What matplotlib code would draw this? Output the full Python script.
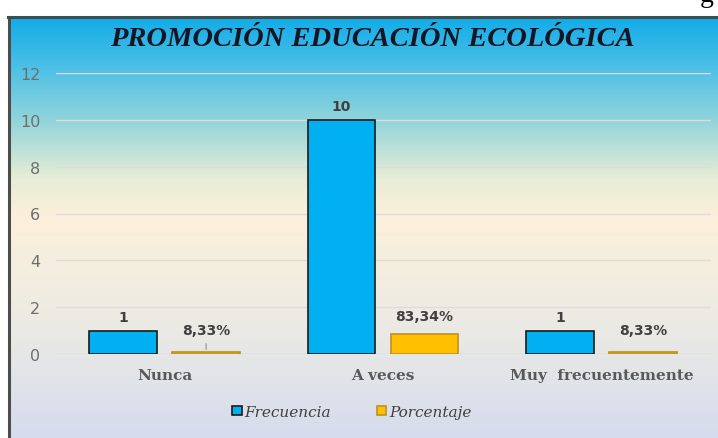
import numpy as np
import matplotlib
matplotlib.use("Agg")
import matplotlib.pyplot as plt
from matplotlib.colors import LinearSegmentedColormap
from matplotlib.lines import Line2D

categories = ["Nunca", "A veces", "Muy  frecuentemente"]
frecuencia = [1, 10, 1]
porcentaje = [0.0833, 0.8334, 0.0833]
frec_labels = ["1", "10", "1"]
porc_labels = ["8,33%", "83,34%", "8,33%"]
yticks = [0, 2, 4, 6, 8, 10, 12]

W, H = 718, 439
fig = plt.figure(figsize=(W / 100, H / 100), dpi=100)
fig.patch.set_facecolor("white")

# partial glyph at top right (cropped text from page)
fig.text(700 / W, 1 - 2 / H, "g", fontsize=20, family="Liberation Serif",
         va="baseline", ha="left", color="black")

# gradient background panel
top_px = 18
bg = fig.add_axes([9 / W, 0, 1 - 9 / W, (H - top_px) / H], zorder=0)
cmap = LinearSegmentedColormap.from_list("bg", [
    (0.0, "#12ACE8"),
    (0.12, "#4DC0E6"),
    (0.25, "#95D5DA"),
    (0.38, "#E6EDD6"),
    (0.47, "#FBF0DA"),
    (0.62, "#F3EEE0"),
    (0.80, "#E6E7E6"),
    (1.0, "#D6DCEE"),
])
grad = np.linspace(0, 1, 256).reshape(-1, 1)
bg.imshow(grad, aspect="auto", cmap=cmap, extent=[0, 1, 0, 1], origin="upper")
bg.set_xlim(0, 1); bg.set_ylim(0, 1)
bg.axis("off")

# frame lines
fig.add_artist(Line2D([9 / W, 9 / W], [0, (H - top_px) / H], color="#4D4D4D", lw=2.2,
                      transform=fig.transFigure, zorder=5))
fig.add_artist(Line2D([8 / W, 1], [(H - top_px) / H, (H - top_px) / H], color="#3F4F4F", lw=2.2,
                      transform=fig.transFigure, zorder=5))

ax = fig.add_axes([55.5 / W, (H - 355) / H, (710.5 - 55.5) / W, (355 - 74) / H], zorder=2)
ax.patch.set_alpha(0)
x = np.arange(len(categories))
bw = 0.31
off = 0.19
b1 = ax.bar(x - off, frecuencia, bw, color="#00B0F0", edgecolor="#1A1A1A", lw=1.2, zorder=3,
            label="Frecuencia")
b2 = ax.bar(x + off, porcentaje, bw, color="#FFC000", edgecolor="#C09020", lw=1.2, zorder=3,
            label="Porcentaje")
ax.set_xlim(-0.5, 2.5)
ax.set_ylim(0, 12)
ax.set_yticks(yticks)
ax.set_yticklabels([str(t) for t in yticks], fontsize=11.5, color="#6E6E6E", family="DejaVu Sans")
ax.tick_params(axis="y", length=0, pad=11)
ax.tick_params(axis="x", length=0, pad=10)
ax.set_xticks(x)
ax.set_xticklabels(categories, fontsize=11, fontweight="bold", family="DejaVu Serif",
                   color="#595959")
ax.grid(axis="y", color="#DCDCDC", lw=1, zorder=0)
for s in ax.spines.values():
    s.set_visible(False)
ax.axhline(0, color="#D0D0D0", lw=1, zorder=1)

for rect, lab in zip(b1, frec_labels):
    ax.annotate(lab, (rect.get_x() + rect.get_width() / 2, rect.get_height()),
                xytext=(0, 5), textcoords="offset points", ha="center", va="bottom",
                fontsize=10, fontweight="bold", color="#404040")
porc_offsets = [11, 8, 11]
for rect, lab, o in zip(b2, porc_labels, porc_offsets):
    ax.annotate(lab, (rect.get_x() + rect.get_width() / 2, rect.get_height()),
                xytext=(0, o), textcoords="offset points", ha="center", va="bottom",
                fontsize=10, fontweight="bold", color="#404040")
# leader line for first percentage label
r0 = b2[0]
ax.annotate("", (r0.get_x() + r0.get_width() / 2, r0.get_height()),
            xytext=(0, 8), textcoords="offset points",
            arrowprops=dict(arrowstyle="-", color="#A0A0A0", lw=1))

fig.text(372 / W, 1 - 39 / H, "PROMOCIÓN EDUCACIÓN ECOLÓGICA", ha="center", va="center",
         fontsize=20.5, fontweight="bold", fontstyle="italic", family="Liberation Serif",
         color="#161622", zorder=6)

leg = fig.legend(handles=[b1, b2], labels=["Frecuencia", "Porcentaje"], loc="center",
                 bbox_to_anchor=(352 / W, 1 - 413 / H), ncol=2, frameon=False,
                 prop=dict(family="DejaVu Serif", style="italic", size=11),
                 handlelength=0.6, handleheight=0.6, handletextpad=0.2, columnspacing=3.0)
for t in leg.get_texts():
    t.set_color("#404040")

fig.savefig("out.png", dpi=100)
